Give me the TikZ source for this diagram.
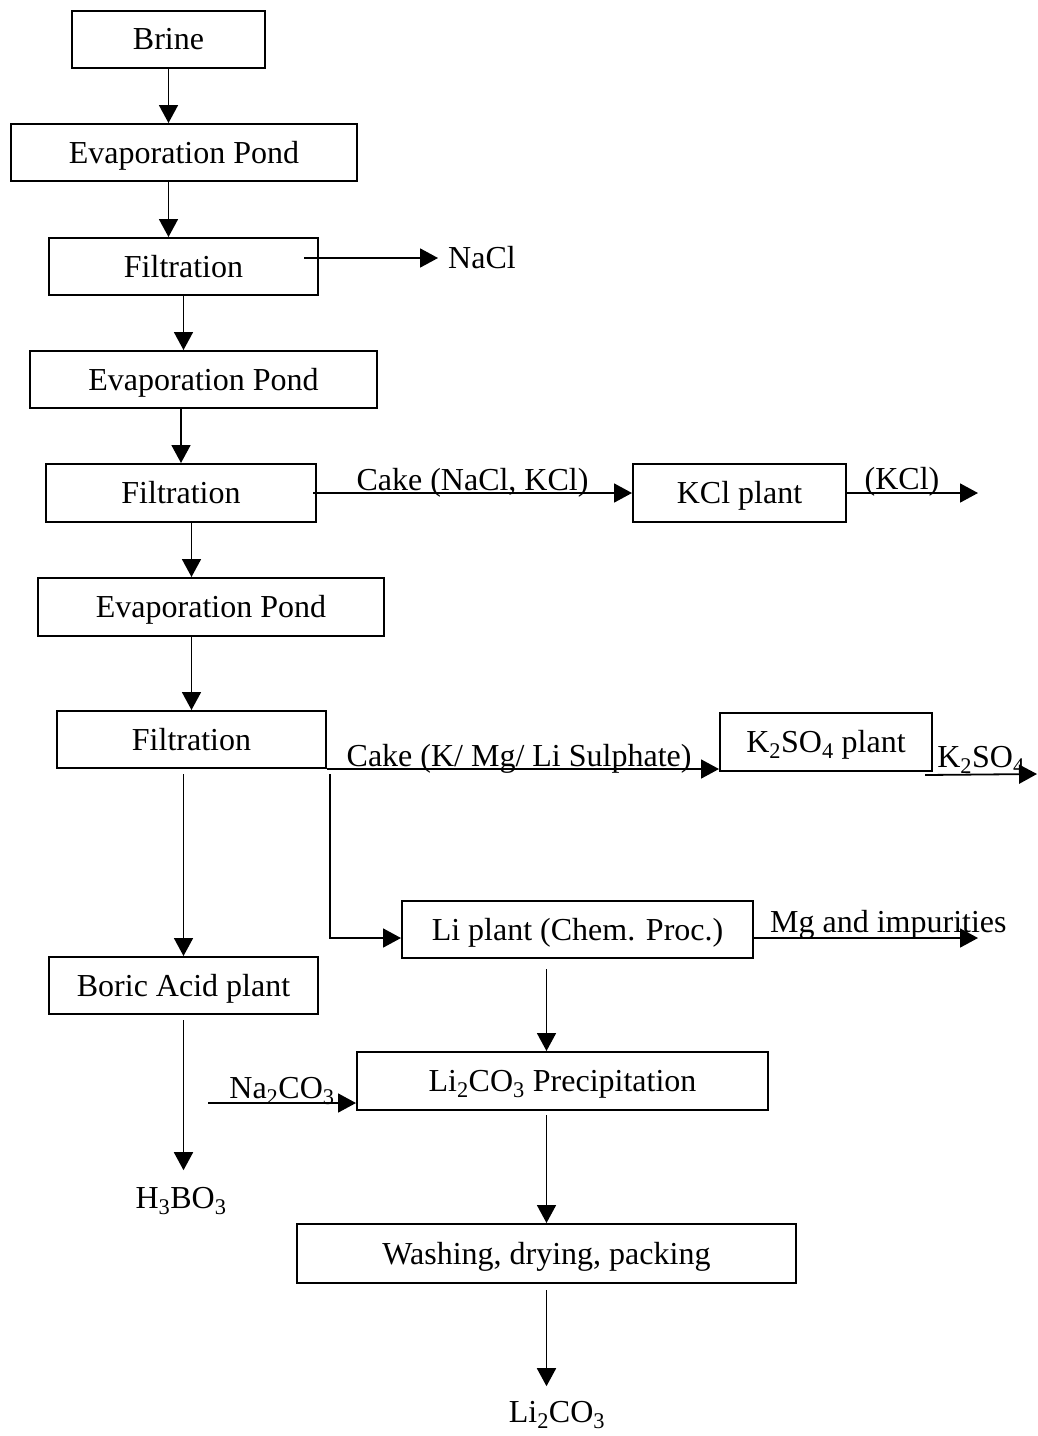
\documentclass[tikz,border=0pt]{standalone}
\usepackage{fontspec}
\setmainfont{Liberation Serif}
\usepackage{tikz}
\usetikzlibrary{shapes,arrows,positioning,calc,arrows.meta}

\begin{document}
\begin{tikzpicture}[x=1pt,y=-1pt,
        unit/.style={
                draw,
                rectangle,
                line width=2pt,
                inner sep=0pt,
                minimum height=57pt,
                text height=21.2pt,
                text depth=0pt,
                font=\fontsize{32}{38}\selectfont,
        },
        product/.style={
                inner sep=0pt,
                text height=21.2pt,
                text depth=0pt,
                font=\fontsize{32}{38}\selectfont,
        },
        stream/.style={
                line width=1.8pt,
                -{Triangle[length=18pt,width=19pt]},
        },
        streamlabel/.style={
                inner sep=0pt,
                anchor=base,
                font=\fontsize{32}{38}\selectfont,
        }]
            \useasboundingbox (0,0) rectangle (1038,1436);

            % process units
            \node[unit, minimum width=193pt] (brine) at (168.5,39) {Brine};
            \node[unit, minimum width=346pt] (ep1) at (184,152.5) {Evaporation Pond};
            \node[unit, minimum width=269pt] (fil1) at (183.5,266.5) {Filtration};
            \node[unit, minimum width=347pt] (ep2) at (203.5,379.5) {Evaporation Pond};
            \node[unit, minimum width=270pt, minimum height=58pt] (fil2) at (181,493) {Filtration};
            \node[unit, minimum width=213pt, minimum height=58pt] (kcl) at (739.5,493) {KCl plant};
            \node[unit, minimum width=346pt, minimum height=58pt] (ep3) at (211,607) {Evaporation Pond};
            \node[unit, minimum width=269pt] (fil3) at (191.5,739.5) {Filtration};
            \node[unit, minimum width=212pt, minimum height=58pt] (kso) at (826,742) {K\textsubscript{2}SO\textsubscript{4} plant};
            \node[unit, minimum width=269pt] (boric) at (183.5,985.5) {Boric Acid plant};
            \node[unit, minimum width=351pt] (liplant) at (577.5,929.5) {Li plant (Chem. Proc.)};
            \node[unit, minimum width=411pt, minimum height=58pt] (liprec) at (562.5,1081) {Li\textsubscript{2}CO\textsubscript{3} Precipitation};
            \node[unit, minimum width=499pt, minimum height=59pt] (wash) at (546.5,1253.5) {Washing, drying, packing};

            % products
            \node[product] (nacl) at (482,258) {NaCl};
            \node[product] (h3bo3) at (181,1198) {H\textsubscript{3}BO\textsubscript{3}};
            \node[product] (li2co3) at (557,1412) {Li\textsubscript{2}CO\textsubscript{3}};

            \coordinate (kclend) at (978,493);
            \coordinate (ksoend) at (1037,774);
            \coordinate (mgend) at (978,938);
            \coordinate (naco) at (208,1103);

            % main line
            \draw[stream] (brine.south) -- (brine.south |- ep1.north);
            \draw[stream] (ep1.south -| brine.south) -- (brine.south |- fil1.north);
            \draw[stream] (fil1.south) -- (fil1.south |- ep2.north);
            \draw[stream] (ep2.south -| fil2.north) -- (fil2.north);
            \draw[stream] (fil2.south -| fil3.north) -- (fil3.north |- ep3.north);
            \draw[stream] (ep3.south -| fil3.north) -- (fil3.north);
            \draw[stream] ([yshift=-5pt]fil3.south -| boric.north) -- (boric.north);
            \draw[stream, shorten <=5pt, shorten >=17pt] (boric.south) -- (boric.south |- h3bo3.north);
            \draw[stream, shorten <=10pt] (liplant.south -| wash.north) -- (liprec.north -| wash.north);
            \draw[stream, shorten <=4pt] (liprec.south -| wash.north) -- (wash.north);
            \draw[stream, shorten <=6pt, shorten >=15pt] (wash.south) -- (wash.south |- li2co3.north);

            % side streams
            \draw[stream] ([xshift=-15pt,yshift=8.5pt]fil1.east) -- ([xshift=-10pt]nacl.west);
            \draw[stream] ([xshift=-4pt]fil2.east) -- (kcl.west)
                node[streamlabel, midway, yshift=2.5pt] {Cake (NaCl, KCl)};
            \draw[stream] (kcl.east) -- (kclend)
                node[streamlabel, pos=0.42, yshift=3.5pt] {(KCl)};
            \draw[stream] (fil3.south east) -- (fil3.south east -| kso.west)
                node[streamlabel, pos=0.49, yshift=3pt] {Cake (K/ Mg/ Li Sulphate)};
            \draw[stream] ([xshift=-8pt,yshift=-3pt]kso.south east) -- (ksoend)
                node[streamlabel, midway, yshift=7pt] {K\textsubscript{2}SO\textsubscript{4}};
            \draw[stream] ([xshift=3pt,yshift=-5pt]fil3.south east) |- ([yshift=-8.5pt]liplant.west);
            \draw[stream] ([yshift=-8.5pt]liplant.east) -- (mgend)
                node[streamlabel, pos=0.6, yshift=6pt] {Mg and impurities};
            \draw[stream] (naco) -- (naco -| liprec.west)
                node[streamlabel, midway, yshift=5pt] {Na\textsubscript{2}CO\textsubscript{3}};
        \end{tikzpicture}
\end{document}
